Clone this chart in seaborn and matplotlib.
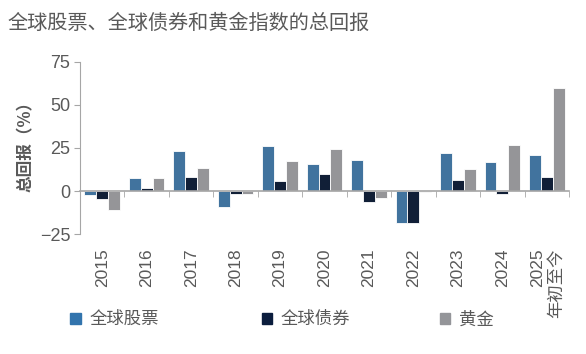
import numpy as np
import pandas as pd
import matplotlib
matplotlib.use("Agg")
import matplotlib.pyplot as plt
import seaborn as sns

# Data
years = ["2015", "2016", "2017", "2018", "2019", "2020", "2021", "2022", "2023", "2024", "2025\n年初至今"]
equities = [-2.4, 7.5, 23.3, -9.2, 26.3, 15.6, 18.1, -18.3, 22.0, 17.0, 20.8]
bonds = [-4.5, 1.8, 8.1, -1.9, 6.0, 9.9, -6.4, -18.3, 6.2, -1.9, 8.1]
gold = [-10.9, 7.4, 13.2, -1.8, 17.4, 24.4, -3.8, -0.4, 12.6, 26.9, 59.8]
series_names = ["全球股票", "全球债券", "黄金"]
colors = ["#3274ad", "#0b1d3d", "#949599"]

df = pd.DataFrame({"year": years, series_names[0]: equities,
                   series_names[1]: bonds, series_names[2]: gold})
long = df.melt(id_vars="year", var_name="series", value_name="ret")

sns.set_style("white")
plt.rcParams["font.family"] = ["Liberation Sans", "Noto Sans CJK SC", "DejaVu Sans"]
CJK = ["Noto Sans CJK SC", "DejaVu Sans"]
TXT = "#595959"
AXC = "#a6a6a6"

fig = plt.figure(figsize=(5.86, 3.54), dpi=100)
ax = fig.add_axes([0.1365, 0.338, 0.8345, 0.488])

sns.barplot(data=long, x="year", y="ret", hue="series", palette=colors,
            width=0.8, edgecolor="white", linewidth=0.6, ax=ax, legend=False)

ax.set_ylim(-25, 75)
ax.set_xlim(-0.5, len(years) - 0.5)
ax.set_yticks([-25, 0, 25, 50, 75])
ax.tick_params(axis="y", direction="out", length=4, color=AXC, labelcolor=TXT,
               labelsize=13, left=True, pad=3)
ax.set_ylabel("总回报（%）", color=TXT, fontsize=12, fontweight="bold", va="center",
              family=CJK)
ax.yaxis.set_label_coords(-0.11, 0.53)
ax.set_xlabel("")

for s in ["top", "right"]:
    ax.spines[s].set_visible(False)
ax.spines["left"].set_color(AXC)
ax.spines["bottom"].set_color(AXC)
ax.spines["bottom"].set_position(("data", 0))
ax.spines["bottom"].set_linewidth(1.2)

# tick marks at category boundaries on the zero line
ax.set_xticks(np.arange(-0.5, len(years), 1.0), minor=True)
ax.tick_params(axis="x", which="minor", direction="out", length=4, color=AXC, bottom=True)
ax.tick_params(axis="x", which="major", length=0, labelbottom=False)

# year labels at the bottom of the plot area
sec = ax.secondary_xaxis("bottom")
sec.set_xticks(range(len(years)))
sec.set_xticklabels(years, rotation=90, color=TXT, fontsize=12.5, ma="right")
sec.tick_params(length=0, pad=10)
sec.spines["bottom"].set_visible(False)

fig.text(0.012, 0.935, "全球股票、全球债券和黄金指数的总回报", color=TXT, fontsize=14.5,
         va="center", family=CJK)

handles = [plt.Rectangle((0, 0), 1, 1, color=c) for c in colors]
xs = [0.12, 0.447, 0.75]
for h, name, x in zip(handles, series_names, xs):
    fig.legend([h], [name], loc="center left", bbox_to_anchor=(x, 0.098), frameon=False,
               prop={"family": CJK, "size": 12.5}, labelcolor=TXT, handlelength=0.6,
               handleheight=0.6, handletextpad=0.5, borderpad=0, borderaxespad=0)

fig.savefig("out.png", dpi=100)
